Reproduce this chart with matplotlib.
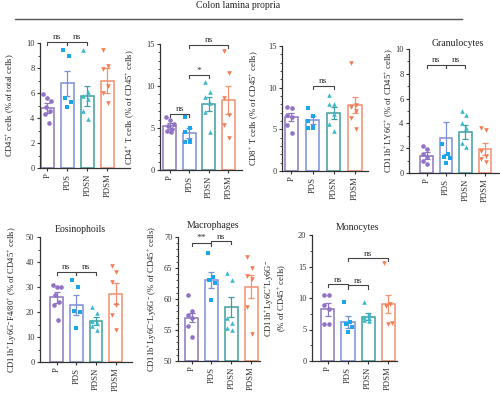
import numpy as np
import matplotlib
matplotlib.use('Agg')
import matplotlib.pyplot as plt
from matplotlib.ticker import AutoMinorLocator

plt.rcParams['font.family'] = ['Liberation Serif', 'DejaVu Serif']
plt.rcParams['mathtext.fontset'] = 'custom'
plt.rcParams['mathtext.rm'] = 'Liberation Serif'
plt.rcParams['mathtext.it'] = 'Liberation Serif:italic'

groups = ['P', 'PDS', 'PDSN', 'PDSM']
bar_cols = ['#8C76BC', '#7C8FD8', '#3E9EA0', '#F29070']
pt_cols = ['#9272C6', '#1AA6EA', '#3CB9CB', '#F47C52']
markers = ['o', 's', '^', 'v']

# CD45+
cd45_pts = [[5.9, 5.6, 5.4, 4.9, 4.6, 4.3, 3.6], [9.4, 9.0, 5.6, 5.3, 4.9],
            [9.4, 6.1, 5.8, 5.5, 4.6, 3.9], [9.4, 8.2, 7.9, 6.6, 6.0, 5.2]]
cd45_mean = [4.8, 6.8, 5.8, 7.0]
cd45_sem = [0.4, 1.0, 0.8, 1.0]
# CD4+
cd4_pts = [[6.3, 5.9, 5.5, 5.2, 4.9, 4.6, 4.5], [6.3, 5.0, 4.5, 3.3, 3.3, 3.4],
           [10.5, 9.3, 8.7, 8.0, 6.9, 4.5], [14.2, 11.5, 8.6, 6.6, 5.4, 3.8]]
cd4_mean = [5.2, 4.4, 7.9, 8.3]
cd4_sem = [0.35, 0.55, 0.85, 1.65]
# CD8+
cd8_pts = [[7.7, 7.6, 6.7, 6.5, 5.5, 4.6], [7.6, 6.6, 6.0, 5.3, 5.2, 5.2],
           [9.1, 8.1, 8.0, 6.8, 5.6, 4.8], [13.0, 7.9, 7.7, 7.2, 6.4, 5.1]]
cd8_mean = [6.5, 6.1, 7.0, 7.9]
cd8_sem = [0.5, 0.5, 0.7, 0.95]
# Granulocytes
gran_pts = [[2.2, 1.9, 1.5, 1.3, 1.0, 0.7], [2.3, 1.5, 1.3, 1.2, 0.8],
            [5.0, 4.7, 4.0, 3.6, 2.4, 2.1], [3.6, 3.5, 1.8, 1.4, 1.1, 0.9]]
gran_mean = [1.4, 2.85, 3.3, 1.95]
gran_sem = [0.3, 1.3, 0.55, 0.5]
# Eosinophils
eos_pts = [[31, 30, 30, 27, 24, 23, 17], [33, 30, 20.6, 20, 13.5],
           [22, 19.5, 16.5, 15.5, 14.5, 12.8], [38.5, 36, 32, 23, 19, 13]]
eos_mean = [26, 23, 16.5, 27.4]
eos_sem = [2.2, 4.0, 1.7, 4.3]
# Macrophages
mac_pts = [[60.6, 58.0, 57.5, 56.9, 55.6, 53.9], [67.5, 63.5, 63.0, 62.6, 59.9],
           [64.2, 63.0, 57.0, 56.1, 55.4, 55.0], [66.8, 65.0, 63.7, 63.3, 58.7, 54.4]]
mac_mean = [57.0, 63.1, 58.7, 62.0]
mac_sem = [0.7, 1.3, 1.6, 1.8]
# Monocytes
mono_pts = [[10.5, 10.5, 8.9, 8.2, 5.9, 5.9], [9.3, 6.2, 5.9, 5.4, 4.6],
            [9.4, 7.4, 7.0, 6.8, 6.5, 6.3], [15.6, 9.1, 8.8, 6.0, 5.8]]
mono_mean = [8.2, 6.2, 7.0, 9.1]
mono_sem = [1.0, 0.95, 0.55, 1.45]

panels = [
    dict(pts=cd45_pts, mean=cd45_mean, sem=cd45_sem, box=(40, 130, 43, 168), ylim=(0, 10),
         xlim=(-0.37, 4.13), yt=[0, 2, 4, 6, 8, 10], minor=2,
         ylabel='CD45$^{+}$ cells (% of total cells)', lx=17,
         sig=[(0, 1, 10.1, 'ns'), (1, 2, 10.1, 'ns')]),
    dict(pts=cd4_pts, mean=cd4_mean, sem=cd4_sem, box=(160, 242, 44, 170), ylim=(0, 15),
         xlim=(-0.5, 3.7), yt=[0, 5, 10, 15], minor=5,
         ylabel='CD4$^{+}$ T cells (% of CD45$^{+}$ cells)', lx=137,
         sig=[(0, 1, 6.7, 'ns'), (1, 2, 11.3, '*'), (1, 3, 14.9, 'ns')]),
    dict(pts=cd8_pts, mean=cd8_mean, sem=cd8_sem, box=(282, 368, 46, 171), ylim=(0, 15),
         xlim=(-0.45, 3.63), yt=[0, 5, 10, 15], minor=5,
         ylabel='CD8$^{+}$ T cells (% of CD45$^{+}$ cells)', lx=261,
         sig=[(1, 2, 10.2, 'ns')]),
    dict(pts=gran_pts, mean=gran_mean, sem=gran_sem, box=(409, 500, 49, 173), ylim=(0, 10),
         xlim=(-0.9, 3.78), yt=[0, 2, 4, 6, 8, 10], minor=2,
         ylabel='CD11b$^{+}$LY6G$^{+}$ (% of CD45$^{+}$ cells)', lx=396,
         title='Granulocytes', tx=458, ty=43,
         sig=[(0, 1, 8.7, 'ns'), (1, 2, 8.7, 'ns')]),
    dict(pts=eos_pts, mean=eos_mean, sem=eos_sem, box=(40, 132, 237, 362), ylim=(0, 50),
         xlim=(-0.85, 3.84), yt=[0, 10, 20, 30, 40, 50], minor=2,
         ylabel='CD11b$^{+}$Ly6G$^{-}$F4/80$^{+}$ (% of CD45$^{+}$ cells)', lx=19,
         title='Eosinophoils', tx=80, ty=230,
         sig=[(0, 1, 36.2, 'ns'), (1, 2, 36.2, 'ns')]),
    dict(pts=mac_pts, mean=mac_mean, sem=mac_sem, box=(178, 260, 237, 361), ylim=(50, 70),
         xlim=(-0.69, 3.45), yt=[50, 55, 60, 65, 70], minor=5,
         ylabel='CD11b$^{+}$Ly6C$^{-}$Ly6G$^{-}$ (% of CD45$^{+}$ cells)', lx=159,
         title='Macrophages', tx=213, ty=225,
         sig=[(0, 1, 69.1, '**'), (1, 2, 69.3, 'ns')]),
    dict(pts=mono_pts, mean=mono_mean, sem=mono_sem, box=(312, 397, 235, 361), ylim=(0, 20),
         xlim=(-0.79, 3.44), yt=[0, 5, 10, 15, 20], minor=2,
         ylabel='CD11b$^{+}$Ly6C$^{+}$Ly6G$^{-}$\n(% of CD45$^{+}$ cells)', lx=289,
         title='Monocytes', tx=357, ty=228,
         sig=[(0, 1, 12.2, 'ns'), (1, 2, 12.0, 'ns'), (1, 3, 16.3, 'ns')]),
]

W, H = 500, 395
fig = plt.figure(figsize=(W / 100, H / 100), dpi=100)
ink = '#333333'

fig.text(238 / W, 1 - 6 / H, 'Colon lamina propria', ha='center', va='center', fontsize=7, color='#222222')
fig.add_artist(plt.Line2D([15 / W, 462 / W], [1 - 19 / H, 1 - 19 / H], color='#555555', lw=1))

for p in panels:
    l, r, t, b = p['box']
    ax = fig.add_axes([l / W, 1 - b / H, (r - l) / W, (b - t) / H])
    x = np.arange(4)
    ax.bar(x, np.array(p['mean']) - p['ylim'][0], bottom=p['ylim'][0], width=0.65,
           color='white', edgecolor=bar_cols, linewidth=1.1, zorder=1)
    for i in range(4):
        ax.errorbar(i, p['mean'][i], yerr=p['sem'][i], color=bar_cols[i], lw=0.9,
                    capsize=2.5, capthick=0.9, zorder=3)
        vals = p['pts'][i]
        n = len(vals)
        offs = ((np.arange(n) * 3) % n) / max(n - 1, 1) * 0.4 - 0.2
        ax.scatter(i + offs, vals, marker=markers[i], s=11, color=pt_cols[i], lw=0, zorder=4)
    ax.set_xlim(*p['xlim'])
    ax.set_ylim(*p['ylim'])
    ax.set_yticks(p['yt'])
    ax.yaxis.set_minor_locator(AutoMinorLocator(p['minor']))
    ax.set_xticks(x)
    ax.set_xticklabels(groups, rotation=90, fontsize=6.2)
    ax.tick_params(axis='y', labelsize=6, length=2.5, width=0.8, pad=1.5, colors=ink)
    ax.tick_params(axis='y', which='minor', length=1.5, width=0.6, colors=ink)
    ax.tick_params(axis='x', length=2.5, width=0.8, pad=1.5, colors=ink)
    for s in ['top', 'right']:
        ax.spines[s].set_visible(False)
    for s in ['left', 'bottom']:
        ax.spines[s].set_color(ink)
        ax.spines[s].set_linewidth(0.9)
    ax.set_ylabel(p['ylabel'], fontsize=6.2, color='#222222', linespacing=1.1)
    ax.yaxis.set_label_coords((p['lx'] - l) / (r - l), 0.5)
    span = p['ylim'][1] - p['ylim'][0]
    for i, j, y, txt in p['sig']:
        d = span * 0.025
        ax.plot([i, i, j, j], [y - d, y, y, y - d], color='#444444', lw=0.8, clip_on=False, zorder=5)
        ax.text((i + j) / 2, y + span * 0.005, txt, ha='center', va='bottom', fontsize=6.8,
                color='#333333', clip_on=False)
    if 'title' in p:
        fig.text(p['tx'] / W, 1 - p['ty'] / H, p['title'], ha='center', va='center',
                 fontsize=7, color='#222222')

fig.savefig('out.png', dpi=100)
